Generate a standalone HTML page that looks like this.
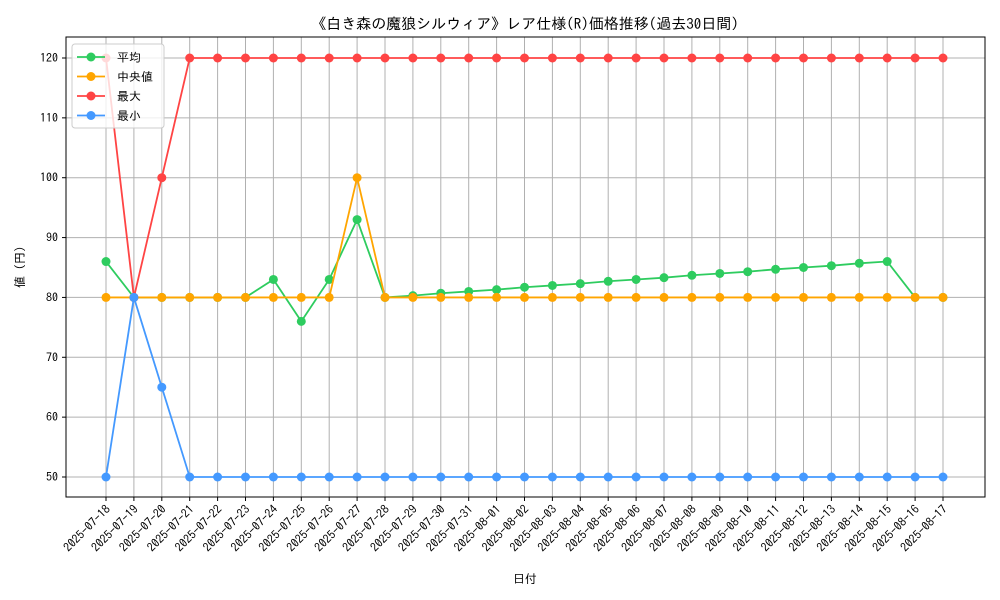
<!DOCTYPE html>
<html><head><meta charset="utf-8"><style>
body{margin:0;background:#fff;}
svg{display:block;font-family:"IPAGothic","Noto Sans CJK JP",sans-serif;}
</style></head><body>
<svg id="chart" width="1000" height="600" viewBox="0 0 1000 600">
<rect width="1000" height="600" fill="#fff"/>
<text x="525" y="29" text-anchor="middle" font-size="15" fill="#000">《白き森の魔狼シルウィア》レア仕様(R)価格推移(過去30日間)</text>
<g id="grid"></g>
<g id="series"></g>
<rect x="66" y="37" width="919" height="460" fill="none" stroke="#000" stroke-width="1"/>
<g id="axes"></g>
<text x="525" y="583" text-anchor="middle" font-size="12">日付</text>
<text transform="translate(24,267) rotate(-90)" text-anchor="middle" font-size="12">値 (円)</text>
<g id="legend"></g>
</svg>
<script>
const dates=["2025-07-18","2025-07-19","2025-07-20","2025-07-21","2025-07-22","2025-07-23","2025-07-24","2025-07-25","2025-07-26","2025-07-27","2025-07-28","2025-07-29","2025-07-30","2025-07-31","2025-08-01","2025-08-02","2025-08-03","2025-08-04","2025-08-05","2025-08-06","2025-08-07","2025-08-08","2025-08-09","2025-08-10","2025-08-11","2025-08-12","2025-08-13","2025-08-14","2025-08-15","2025-08-16","2025-08-17"];
const avgVals=[86,80,80,80,80,80,83,76,83,93,80,80.3,80.7,81,81.3,81.7,82,82.3,82.7,83,83.3,83.7,84,84.3,84.7,85,85.3,85.7,86,80,80];
const medVals=[80,80,80,80,80,80,80,80,80,100,80,80,80,80,80,80,80,80,80,80,80,80,80,80,80,80,80,80,80,80,80];
const maxVals=[120,80,100,120,120,120,120,120,120,120,120,120,120,120,120,120,120,120,120,120,120,120,120,120,120,120,120,120,120,120,120];
const minVals=[50,80,65,50,50,50,50,50,50,50,50,50,50,50,50,50,50,50,50,50,50,50,50,50,50,50,50,50,50,50,50];
const yTicks=[50,60,70,80,90,100,110,120];
const seriesNames=["平均","中央値","最大","最小"];
const seriesColors=["#2ecc5f","#ffa500","#ff4444","#4499ff"];

const NS="http://www.w3.org/2000/svg";
const x0=106,x1=943,y50=477,y120=58;
const xs=i=>x0+(x1-x0)*i/(dates.length-1);
const ys=v=>y50+(v-50)*(y120-y50)/70;
function mk(t,a,p){const e=document.createElementNS(NS,t);for(const k in a)e.setAttribute(k,a[k]);p.appendChild(e);return e;}
const grid=document.getElementById('grid'),axes=document.getElementById('axes');
dates.forEach((d,i)=>{
 const x=xs(i);
 const g=mk('line',{x1:x,x2:x,y1:37,y2:497,stroke:'#b0b0b0','stroke-width':1},grid);
 
 
 const t=mk('line',{x1:x,x2:x,y1:497,y2:501,stroke:'#000'},axes);
 
 
 const l=mk('text',{transform:`translate(${x+5},${510}) rotate(-45)`,'text-anchor':'end','font-size':12},axes);
 l.textContent=d;
 
 
});
yTicks.forEach(v=>{
 const y=ys(v);
 const g=mk('line',{x1:66,x2:985,y1:y,y2:y,stroke:'#b0b0b0','stroke-width':1},grid);
 
 
 const t=mk('line',{x1:62,x2:66,y1:y,y2:y,stroke:'#000'},axes);
 
 
 const l=mk('text',{x:58,y:y+4,'text-anchor':'end','font-size':12},axes);
 l.textContent=v;
 
 
});
const sg=document.getElementById('series');
[avgVals,medVals,maxVals,minVals].forEach((vals,si)=>{
 const c=seriesColors[si];
 const pl=mk('polyline',{points:vals.map((v,i)=>xs(i)+','+ys(v)).join(' '),fill:'none',stroke:c,'stroke-width':1.8},sg);
 
 
 vals.forEach((v,i)=>{
  const p=mk('circle',{cx:xs(i),cy:ys(v),r:4.5,fill:c},sg);
  
  
 });
});
const lg=document.getElementById('legend');
const box=mk('rect',{x:72,y:44,width:92,height:84,rx:3,fill:'#fff','fill-opacity':0.8,stroke:'#ccc'},lg);


seriesNames.forEach((n,i)=>{
 const y=57+i*19.5;
 const ln=mk('line',{x1:77,x2:105,y1:y,y2:y,stroke:seriesColors[i],'stroke-width':1.8},lg);
 
 
 const c=mk('circle',{cx:91,cy:y,r:4.5,fill:seriesColors[i]},lg);
 
 
 const t=mk('text',{x:117,y:y+4.5,'font-size':12},lg);
 t.textContent=n;
 
 
});
</script>
</body></html>
